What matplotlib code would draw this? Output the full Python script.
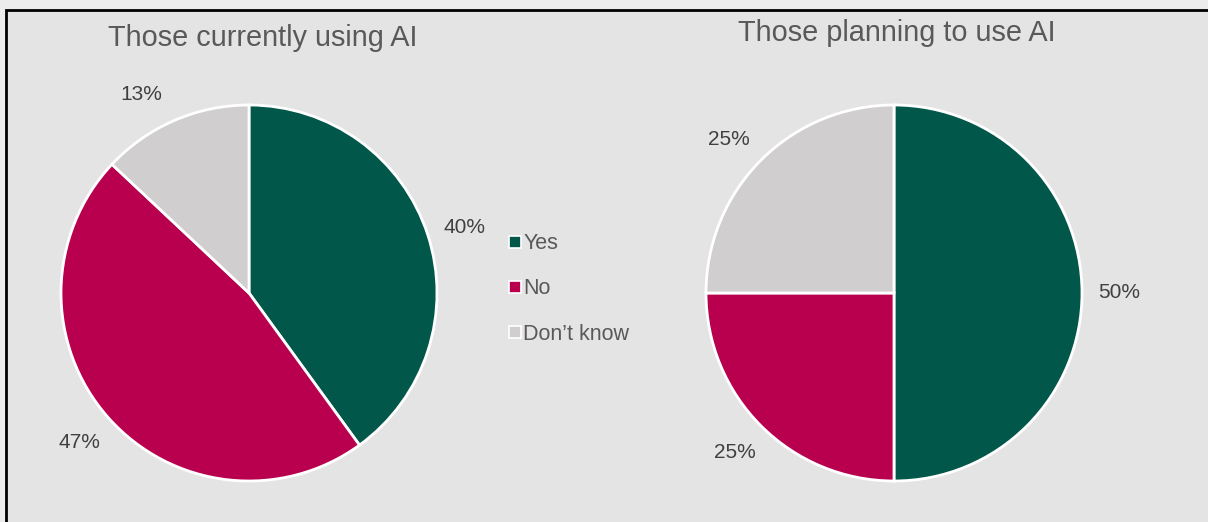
import numpy as np
import matplotlib.pyplot as plt
from matplotlib.patches import Rectangle
from matplotlib.lines import Line2D

plt.rcParams['font.family'] = ['Liberation Sans', 'DejaVu Sans']

categories = ['Yes', 'No', 'Don\u2019t know']
current_use = [40, 47, 13]
planned_use = [50, 25, 25]
colors = ['#00574a', '#b8004f', '#d0cece']
titles = ['Those currently using AI', 'Those planning to use AI']

W, H = 1208, 522
fig = plt.figure(figsize=(W / 100, H / 100), dpi=100, facecolor='#ececec')

# framed panel
fig.patches.append(Rectangle((6 / W, -0.05), 1.1, 1 - 10 / H + 0.05, transform=fig.transFigure,
                             facecolor='#e4e4e4', edgecolor='black', linewidth=2, zorder=-5))

def pie_axes(cx, cy, r):
    ax = fig.add_axes([(cx - r) / W, 1 - (cy + r) / H, 2 * r / W, 2 * r / H])
    ax.set_zorder(2)
    return ax

# (center px, values, title, title px, per-label angle nudge in degrees)
panels = [((249, 293), current_use, titles[0], (263, 38), [-1, 0, 5]),
          ((894, 293), planned_use, titles[1], (897, 33), [0, 0, 2])]

for center, values, title, tpos, nudge in panels:
    ax = pie_axes(*center, 188)
    wedges, _, pcts = ax.pie(values, colors=colors, startangle=90, counterclock=False,
                             autopct='%d%%', pctdistance=1.19,
                             wedgeprops=dict(edgecolor='white', linewidth=2),
                             textprops=dict(color='#404040', fontsize=15))
    # nudge the percentage labels around the rim a little
    for w, t, dn in zip(wedges, pcts, nudge):
        ang = np.deg2rad((w.theta1 + w.theta2) / 2 + dn)
        t.set_position((1.2 * np.cos(ang), 1.2 * np.sin(ang)))
    ax.set_xlim(-1, 1)
    ax.set_ylim(-1, 1)
    ax.set_aspect('equal')
    ax.axis('off')
    fig.text(tpos[0] / W, 1 - tpos[1] / H, title, ha='center', va='center',
             fontsize=20.8, color='#595959')

handles = [Line2D([], [], linestyle='none', marker='s', markersize=9,
                  markerfacecolor=c, markeredgecolor='white', markeredgewidth=1.2)
           for c in colors]
fig.legend(handles, categories, loc='center left', bbox_to_anchor=(489 / W, 1 - 289 / H),
           frameon=False, fontsize=15.5, labelcolor='#595959', handlelength=0.6,
           handletextpad=0.1, labelspacing=1.12)

fig.savefig('out.png', dpi=100, facecolor=fig.get_facecolor())
